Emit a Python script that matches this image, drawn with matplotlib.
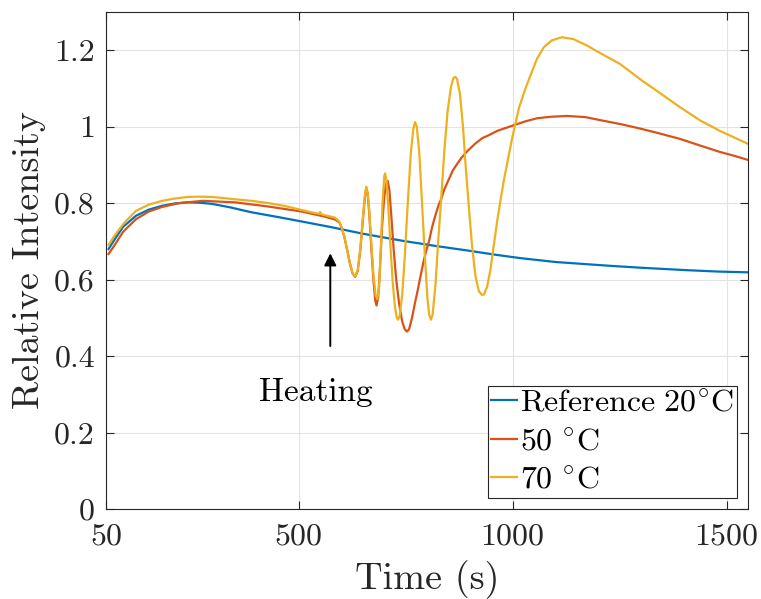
import numpy as np
import matplotlib
matplotlib.use("Agg")
import matplotlib.pyplot as plt

# Computer Modern look, like the MATLAB/LaTeX original
plt.rcParams['font.family'] = 'serif'
plt.rcParams['font.serif'] = ['cmr10', 'DejaVu Serif']
plt.rcParams['mathtext.fontset'] = 'cm'
plt.rcParams['axes.unicode_minus'] = False
plt.rcParams['axes.formatter.use_mathtext'] = True

# --- data ---
t_ref = [56, 70, 90, 120, 150, 181, 210, 243, 270, 298, 340, 390, 450, 507, 577,
         650, 740, 820, 895, 960, 1019, 1100, 1228, 1300, 1400, 1480, 1550]
v_ref = [0.680, 0.705, 0.738, 0.767, 0.783, 0.793, 0.799, 0.802, 0.801, 0.798, 0.789,
         0.776, 0.764, 0.752, 0.737, 0.720, 0.702, 0.688, 0.676, 0.665, 0.656, 0.646,
         0.636, 0.631, 0.625, 0.621, 0.619]

t_50 = [56, 70, 90, 120, 150, 181, 220, 276, 352, 430, 507, 560, 585, 595,
        600, 607, 614, 620, 626, 632, 638, 644, 650, 655, 658, 661, 665, 670, 675, 679,
        682, 686, 690, 695, 700, 704, 708, 712, 717, 722, 728, 735, 742, 748, 753, 758,
        765, 772, 778, 785, 792, 798, 805, 812, 820, 827, 833, 840, 850, 860, 867, 880,
        895, 912, 929, 945, 964, 985, 1003, 1030, 1057, 1090, 1127, 1170, 1205, 1251,
        1298, 1344, 1391, 1437, 1484, 1520, 1550]
v_50 = [0.667, 0.690, 0.725, 0.758, 0.778, 0.790, 0.800, 0.806, 0.802, 0.791, 0.778,
        0.765, 0.757, 0.750,
        0.737, 0.711, 0.674, 0.641, 0.616, 0.607, 0.622, 0.676, 0.755, 0.818, 0.838,
        0.826, 0.775, 0.680, 0.596, 0.545, 0.532, 0.555, 0.630, 0.740, 0.815, 0.850,
        0.858, 0.835, 0.760, 0.680, 0.600, 0.535, 0.490, 0.470, 0.464, 0.470, 0.500,
        0.540, 0.571, 0.610, 0.648, 0.675, 0.702, 0.738, 0.770, 0.795, 0.810, 0.835,
        0.860, 0.885, 0.897, 0.918, 0.937, 0.955, 0.970, 0.978, 0.989, 0.997, 1.004,
        1.014, 1.022, 1.026, 1.028, 1.025, 1.017, 1.007, 0.995, 0.982, 0.968, 0.951,
        0.934, 0.923, 0.913]

t_70 = [56, 70, 90, 100, 120, 150, 181, 210, 240, 266, 300, 352, 390, 430, 470, 507,
        530, 548, 550, 553, 570, 585, 595,
        600, 607, 614, 620, 626, 632, 638, 644, 650, 655, 658, 661, 665, 670, 675, 680,
        684, 688, 692, 696, 700, 702, 705, 710, 715, 720, 725, 729, 732, 736, 742, 748,
        755, 762, 768, 772, 776, 782, 788, 795, 801, 805, 809, 813, 820, 826, 833, 840,
        848, 856, 862, 866, 870, 877, 884, 890, 897, 905, 913, 921, 928, 933, 940, 948,
        956, 964, 972, 980, 999, 1015, 1030, 1042, 1057, 1073, 1092, 1115, 1142, 1174,
        1205, 1251, 1298, 1344, 1391, 1437, 1484, 1550]
v_70 = [0.691, 0.715, 0.745, 0.757, 0.780, 0.796, 0.806, 0.812, 0.816, 0.817, 0.816,
        0.810, 0.806, 0.800, 0.792, 0.782, 0.776, 0.772, 0.777, 0.771, 0.766, 0.762,
        0.752,
        0.738, 0.712, 0.675, 0.642, 0.617, 0.608, 0.625, 0.680, 0.760, 0.822, 0.843,
        0.830, 0.780, 0.690, 0.610, 0.558, 0.550, 0.580, 0.680, 0.800, 0.870, 0.878,
        0.860, 0.780, 0.680, 0.590, 0.530, 0.502, 0.495, 0.505, 0.560, 0.660, 0.800,
        0.930, 0.995, 1.012, 1.000, 0.930, 0.806, 0.660, 0.550, 0.508, 0.495, 0.508,
        0.590, 0.700, 0.810, 0.930, 1.040, 1.105, 1.128, 1.130, 1.125, 1.085, 1.000,
        0.900, 0.800, 0.690, 0.610, 0.570, 0.560, 0.561, 0.580, 0.625, 0.690, 0.754,
        0.810, 0.863, 0.971, 1.050, 1.100, 1.135, 1.178, 1.208, 1.226, 1.234, 1.229,
        1.212, 1.192, 1.164, 1.124, 1.088, 1.051, 1.017, 0.989, 0.955]

labels = [r'$\mathrm{Reference\ 20^{\circ}C}$', r'$\mathrm{50\ ^{\circ}C}$',
          r'$\mathrm{70\ ^{\circ}C}$']
colors = ['#0072BD', '#D95319', '#EDB120']

x_ticks = [50, 500, 1000, 1500]
y_ticks = [0, 0.2, 0.4, 0.6, 0.8, 1.0, 1.2]
y_ticklabels = ['0', '0.2', '0.4', '0.6', '0.8', '1', '1.2']

fig = plt.figure(figsize=(7.61, 5.99), dpi=100)
ax = fig.add_axes([0.1393, 0.1503, 0.8437, 0.8297])

ax.plot(t_ref, v_ref, color=colors[0], lw=1.6, label=labels[0])
ax.plot(t_50, v_50, color=colors[1], lw=1.6, label=labels[1])
ax.plot(t_70, v_70, color=colors[2], lw=1.6, label=labels[2])

ax.set_xlim(50, 1550)
ax.set_ylim(0, 1.3)
ax.set_xticks(x_ticks)
ax.set_xticklabels([str(v) for v in x_ticks])
ax.set_yticks(y_ticks)
ax.set_yticklabels(y_ticklabels)

ax.grid(True, color='#e3e3e3', lw=0.8)
ax.set_axisbelow(True)
for s in ax.spines.values():
    s.set_color('#262626')
    s.set_linewidth(0.8)
ax.tick_params(direction='in', top=True, right=True, length=6, width=0.8,
               colors='#262626', labelsize=23, labelcolor='#262626')
ax.tick_params(axis='x', pad=10)
ax.tick_params(axis='y', pad=8)

ax.set_xlabel('Time (s)', fontsize=27.5, color='#262626', labelpad=7)
ax.set_ylabel('Relative Intensity', fontsize=27.5, color='#262626', labelpad=6)

# heating marker
ax.annotate('', xy=(574, 0.676), xytext=(574, 0.419),
            arrowprops=dict(arrowstyle='-|>', color='black', lw=1.4,
                            mutation_scale=18))
ax.text(540, 0.306, 'Heating', fontsize=24, ha='center', va='center')

leg = ax.legend(loc='lower right', fontsize=23, frameon=True, fancybox=False,
                framealpha=1, edgecolor='#262626', handlelength=0.8,
                handletextpad=0.1, borderpad=0.1, labelspacing=0.32,
                borderaxespad=0.35)
leg.get_frame().set_linewidth(0.8)

fig.savefig('out.png', dpi=100)
